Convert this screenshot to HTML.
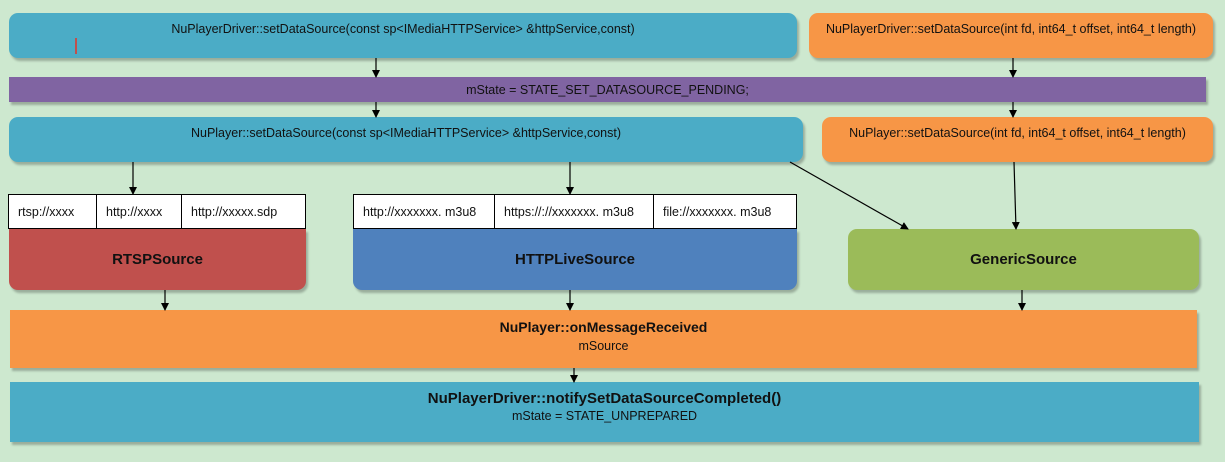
<!DOCTYPE html>
<html><head><meta charset="utf-8"><style>
body{margin:0;width:1225px;height:462px;background:#cde8cf;position:relative;overflow:hidden;font-family:"Liberation Sans Narrow","Liberation Sans",sans-serif;font-size:12.5px;color:#111}
.b{position:absolute;box-sizing:border-box;display:flex;align-items:center;justify-content:center;text-align:center;box-shadow:2px 3px 2px rgba(0,0,0,0.25)}
.r{border-radius:9px}
.t{position:absolute;background:#fff;border:1.5px solid #000;box-sizing:border-box;display:flex}
.t div{border-right:1.5px solid #000;display:flex;align-items:center;justify-content:flex-start;padding-left:9px;height:100%;box-sizing:border-box;white-space:nowrap}
.t div:last-child{border-right:none}
.big{font-weight:bold;font-size:15px}
svg{position:absolute;left:0;top:0}
</style></head><body>
<div class="b r" style="left:9px;top:13px;width:788px;height:45px;background:#4bacc6;align-items:flex-start;padding-top:9px">NuPlayerDriver::setDataSource(const sp&lt;IMediaHTTPService&gt; &amp;httpService,const)</div>
<div style="position:absolute;left:75px;top:38px;width:2px;height:16px;background:#c0504d"></div>
<div class="b r" style="left:809px;top:13px;width:404px;height:45px;background:#f79646;align-items:flex-start;padding-top:9px">NuPlayerDriver::setDataSource(int fd, int64_t offset, int64_t length)</div>
<div class="b" style="left:9px;top:77px;width:1197px;height:25px;background:#8064a2">mState = STATE_SET_DATASOURCE_PENDING;</div>
<div class="b r" style="left:9px;top:117px;width:794px;height:45px;background:#4bacc6;align-items:flex-start;padding-top:9px">NuPlayer::setDataSource(const sp&lt;IMediaHTTPService&gt; &amp;httpService,const)</div>
<div class="b r" style="left:822px;top:117px;width:391px;height:45px;background:#f79646;align-items:flex-start;padding-top:9px">NuPlayer::setDataSource(int fd, int64_t offset, int64_t length)</div>
<div class="t" style="left:8px;top:194px;width:298px;height:35px"><div style="width:88px">rtsp://xxxx</div><div style="width:85px">http://xxxx</div><div style="flex:1">http://xxxxx.sdp</div></div>
<div class="t" style="left:353px;top:194px;width:444px;height:35px"><div style="width:141px">http://xxxxxxx. m3u8</div><div style="width:159px">https://://xxxxxxx. m3u8</div><div style="flex:1">file://xxxxxxx. m3u8</div></div>
<div class="b r big" style="left:9px;top:229px;width:297px;height:61px;background:#c0504d;border-top-left-radius:0;border-top-right-radius:0">RTSPSource</div>
<div class="b r big" style="left:353px;top:229px;width:444px;height:61px;background:#4f81bd;border-top-left-radius:0;border-top-right-radius:0">HTTPLiveSource</div>
<div class="b r big" style="left:848px;top:229px;width:351px;height:61px;background:#9bbb59">GenericSource</div>
<div class="b" style="left:10px;top:310px;width:1187px;height:58px;background:#f79646;flex-direction:column;justify-content:flex-start;padding-top:9px"><span class="big" style="font-size:14px">NuPlayer::onMessageReceived</span><span style="margin-top:4px">mSource</span></div>
<div class="b" style="left:10px;top:382px;width:1189px;height:60px;background:#4bacc6;flex-direction:column;justify-content:flex-start;padding-top:8px"><span class="big">NuPlayerDriver::notifySetDataSourceCompleted()</span><span style="margin-top:2px">mState = STATE_UNPREPARED</span></div>
<svg width="1225" height="462"><defs><marker id="a" markerWidth="8" markerHeight="8" refX="7" refY="4" orient="auto" markerUnits="userSpaceOnUse"><path d="M0,0 L8,4 L0,8z" fill="#000"/></marker></defs>
<g stroke="#000" stroke-width="1.2" marker-end="url(#a)">
<line x1="376" y1="58" x2="376" y2="77"/><line x1="376" y1="102" x2="376" y2="117"/>
<line x1="1013" y1="58" x2="1013" y2="77"/><line x1="1013" y1="102" x2="1013" y2="117"/>
<line x1="133" y1="162" x2="133" y2="194"/><line x1="570" y1="162" x2="570" y2="194"/>
<line x1="790" y1="162" x2="908" y2="229"/><line x1="1014" y1="162" x2="1016" y2="229"/>
<line x1="165" y1="290" x2="165" y2="310"/><line x1="570" y1="290" x2="570" y2="310"/>
<line x1="1022" y1="290" x2="1022" y2="310"/><line x1="574" y1="368" x2="574" y2="382"/>
</g></svg>
</body></html>
